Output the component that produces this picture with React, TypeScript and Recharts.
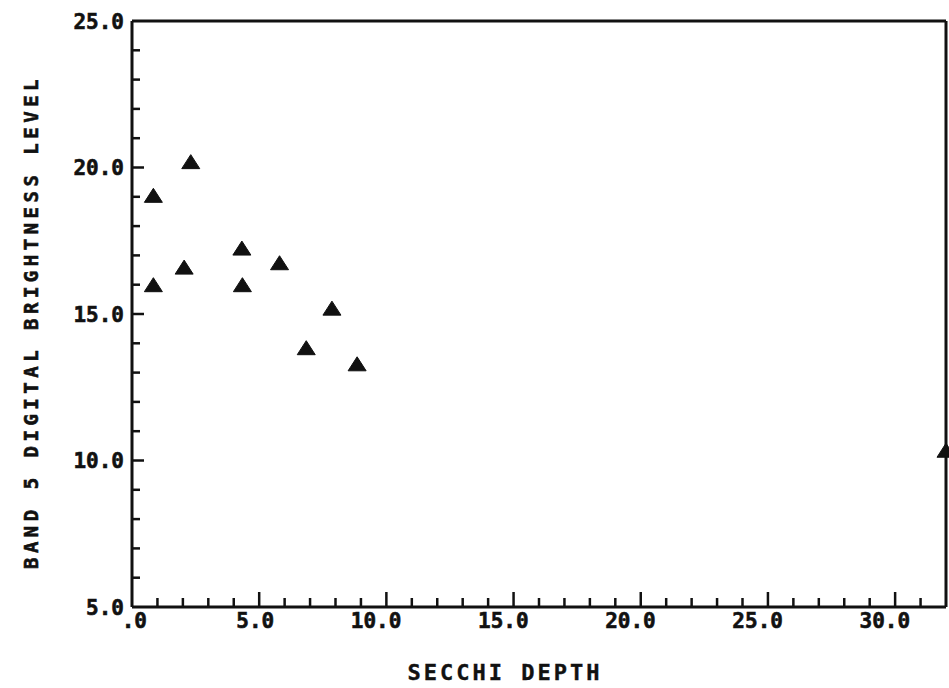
import React from "react";
import { ScatterChart, Scatter, XAxis, YAxis, ReferenceLine } from "recharts";

// values
const secchiDepth = [0.84, 0.84, 2.05, 2.31, 4.32, 4.34, 5.8, 6.85, 7.86, 8.85, 32];
const band5Level = [19.05, 16.0, 16.6, 20.2, 17.25, 16.0, 16.75, 13.85, 15.2, 13.3, 10.35];

const xMajor = [0, 5, 10, 15, 20, 25, 30];
const xLabels = [".0", "5.0", "10.0", "15.0", "20.0", "25.0", "30.0"];
const yMajor = [5, 10, 15, 20, 25];
const yLabels = ["5.0", "10.0", "15.0", "20.0", "25.0"];

const xTicks = Array.from({ length: 32 }, (_, i) => i);
const yTicks = Array.from({ length: 21 }, (_, i) => i + 5);

const points = secchiDepth.map((x, i) => ({ x, y: band5Level[i] }));

const FONT = "'DejaVu Sans Mono', monospace";
const INK = "#111";

const XTick = ({ x, y, payload }: any) => {
  const v = payload.value;
  const idx = xMajor.indexOf(v);
  return (
    <g>
      {v > 0 && (
        <line x1={x} x2={x} y1={y} y2={y - (idx >= 0 ? 15 : 9)} stroke={INK} strokeWidth={2.5} />
      )}
      {idx >= 0 && (
        <text x={x + 15} y={y + 21} textAnchor="end" fontFamily={FONT} fontWeight="bold" fontSize={21}
          fill={INK} stroke={INK} strokeWidth={0.6}>
          {xLabels[idx]}
        </text>
      )}
    </g>
  );
};

const YTick = ({ x, y, payload }: any) => {
  const v = payload.value;
  const idx = yMajor.indexOf(v);
  return (
    <g>
      {v > 5 && v < 25 && (
        <line x1={x} x2={x + (idx >= 0 ? 12 : 8)} y1={y} y2={y} stroke={INK} strokeWidth={2.5} />
      )}
      {idx >= 0 && (
        <text x={x - 8} y={y + 7.5} textAnchor="end" fontFamily={FONT} fontWeight="bold" fontSize={21}
          fill={INK} stroke={INK} strokeWidth={0.6}>
          {yLabels[idx]}
        </text>
      )}
    </g>
  );
};

const Triangle = ({ cx, cy }: any) => (
  <polygon
    points={`${cx},${cy - 7} ${cx - 9},${cy + 7} ${cx + 9},${cy + 7}`}
    fill={INK}
    stroke={INK}
    strokeWidth={1}
    strokeLinejoin="round"
  />
);

const XTitle = ({ viewBox }: any) => (
  <text
    x={viewBox.x + viewBox.width / 2 - 34}
    y={viewBox.y + 73}
    textAnchor="middle"
    fontFamily={FONT}
    fontWeight="bold"
    fontSize={22}
    letterSpacing={3}
    fill={INK}
    stroke={INK}
    strokeWidth={0.4}
  >
    SECCHI DEPTH
  </text>
);

const YTitle = ({ viewBox }: any) => {
  const cx = viewBox.x + 31;
  const cy = viewBox.y + viewBox.height / 2 + 8;
  return (
    <text
      x={cx}
      y={cy}
      transform={`rotate(-90, ${cx}, ${cy})`}
      textAnchor="middle"
      dominantBaseline="central"
      fontFamily={FONT}
      fontWeight="bold"
      fontSize={19}
      letterSpacing={4.5}
      fill={INK}
      stroke={INK}
      strokeWidth={0.6}
    >
      BAND 5 DIGITAL BRIGHTNESS LEVEL
    </text>
  );
};

export default function App() {
  return (
    <div style={{ position: "absolute", left: 0, top: 0, width: 949, height: 688, background: "#fff" }}>
      <ScatterChart width={949} height={688} margin={{ top: 21, right: 3, bottom: 0, left: 0 }}>
        <XAxis
          type="number"
          dataKey="x"
          domain={[0, 32]}
          ticks={xTicks}
          interval={0}
          height={81}
          tickSize={0}
          tickMargin={0}
          tickLine={false}
          axisLine={{ stroke: INK, strokeWidth: 3 }}
          tick={<XTick />}
          label={<XTitle />}
        />
        <YAxis
          type="number"
          dataKey="y"
          domain={[5, 25]}
          ticks={yTicks}
          interval={0}
          width={132}
          tickSize={0}
          tickMargin={0}
          tickLine={false}
          axisLine={{ stroke: INK, strokeWidth: 3 }}
          tick={<YTick />}
          label={<YTitle />}
        />
        <ReferenceLine y={25} stroke={INK} strokeWidth={3} />
        <ReferenceLine x={32} stroke={INK} strokeWidth={3} />
        <Scatter data={points} shape={<Triangle />} isAnimationActive={false} />
      </ScatterChart>
    </div>
  );
}
